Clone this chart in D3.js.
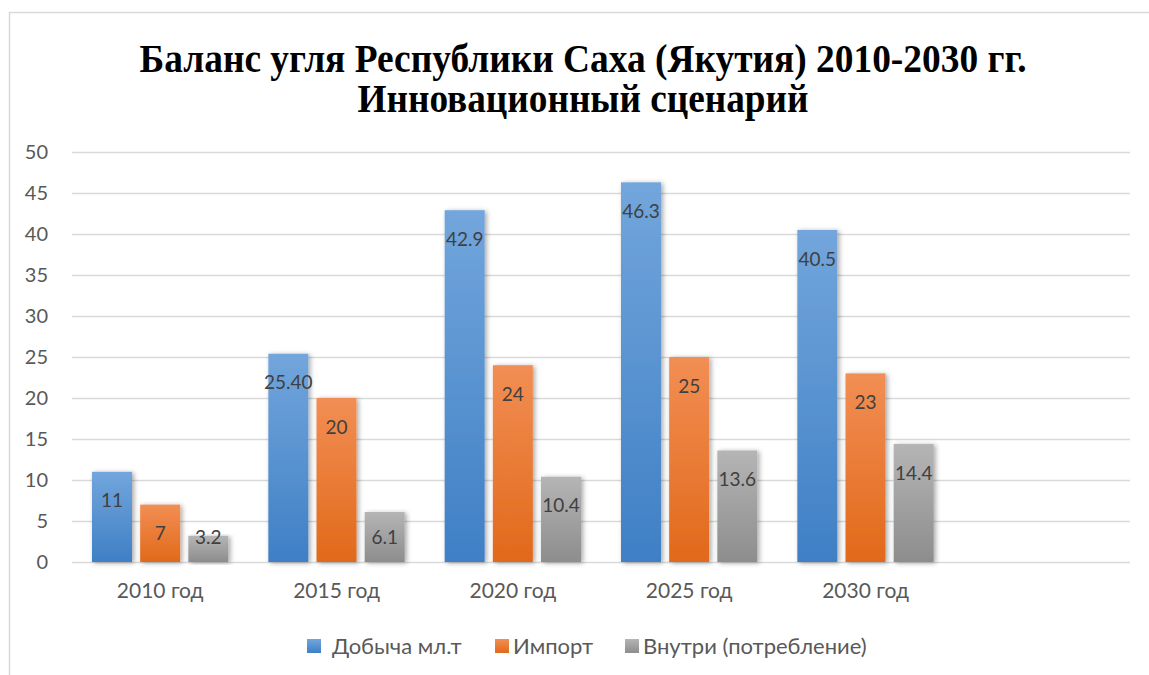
<!DOCTYPE html>
<html>
<head>
<meta charset="utf-8">
<script src="https://cdn.jsdelivr.net/npm/d3@7"></script>
<style>
  body { margin: 0; background: #fff; }
  svg text { font-family: Lato, "Open Sans", sans-serif; }
</style>
</head>
<body>
<svg id="chart"></svg>
<script>
// chart values
const categories = ["2010 год", "2015 год", "2020 год", "2025 год", "2030 год", ""];
const seriesNames = ["Добыча мл.т", "Импорт", "Внутри (потребление)"];
const dobycha = [11, 25.4, 42.9, 46.3, 40.5];
const importVals = [7, 20, 24, 25, 23];
const vnutri = [3.2, 6.1, 10.4, 13.6, 14.4];
const dobychaLabels = ["11", "25.40", "42.9", "46.3", "40.5"];
const importLabels = ["7", "20", "24", "25", "23"];
const vnutriLabels = ["3.2", "6.1", "10.4", "13.6", "14.4"];
const yTicks = [0, 5, 10, 15, 20, 25, 30, 35, 40, 45, 50];
const titleLines = ["Баланс угля Республики Саха (Якутия) 2010-2030 гг.", "Инновационный сценарий"];

const config = {
    width: 1149,
    height: 675,
    margin: { top: 152, right: 19, bottom: 113, left: 72 }
};

const svg = d3.select("#chart")
    .attr("width", config.width)
    .attr("height", config.height);

const innerW = config.width - config.margin.left - config.margin.right;
const innerH = config.height - config.margin.top - config.margin.bottom;

// frame of the chart object
svg.append("path")
    .attr("d", `M9.5,${config.height} V12.5 H${config.width}`)
    .attr("fill", "none")
    .attr("stroke", "#d9d9d9")
    .attr("stroke-width", 1.5);

// gradients and shadow
const defs = svg.append("defs");
const gradStops = [
    ["#72a6dc", "#3f7fc5"],
    ["#f28e54", "#e1691a"],
    ["#b5b5b5", "#8d8d8d"]
];
gradStops.forEach((s, i) => {
    const g = defs.append("linearGradient")
        .attr("id", "grad" + i)
        .attr("x1", 0).attr("y1", 0).attr("x2", 0).attr("y2", 1);
    g.append("stop").attr("offset", "0%").attr("stop-color", s[0]);
    g.append("stop").attr("offset", "100%").attr("stop-color", s[1]);
});
const shadow = defs.append("filter").attr("id", "shadow")
    .attr("x", "-20%").attr("y", "-5%").attr("width", "150%").attr("height", "115%");
shadow.append("feDropShadow")
    .attr("dx", 2).attr("dy", 1).attr("stdDeviation", 2.5)
    .attr("flood-color", "#000").attr("flood-opacity", 0.35);

// title
svg.selectAll(".title")
    .data(titleLines)
    .join("text")
    .attr("class", "title")
    .attr("x", 583)
    .attr("y", (d, i) => 72 + i * 40)
    .attr("text-anchor", "middle")
    .attr("textLength", (d, i) => i === 0 ? 887 : 451)
    .attr("lengthAdjust", "spacingAndGlyphs")
    .style("font-family", "'Liberation Serif', 'Times New Roman', serif")
    .style("font-weight", "bold")
    .style("font-size", "40px")
    .style("fill", "#000")
    .text(d => d);

const chart = svg.append("g")
    .attr("transform", `translate(${config.margin.left},${config.margin.top})`);

const xScale = d3.scaleBand()
    .domain(categories.map((d, i) => i))
    .range([0, innerW])
    .padding(0);

const xInner = d3.scaleBand()
    .domain([0, 1, 2])
    .range([20, xScale.bandwidth() - 20])
    .paddingInner(0.17);

const yScale = d3.scaleLinear()
    .domain([0, 50])
    .range([innerH, 0]);

// gridlines
chart.append("g")
    .selectAll("line")
    .data(yTicks)
    .join("line")
    .attr("x1", 0)
    .attr("x2", innerW)
    .attr("y1", d => Math.round(yScale(d)) + 0.5)
    .attr("y2", d => Math.round(yScale(d)) + 0.5)
    .attr("stroke", "#d9d9d9")
    .attr("stroke-width", 1.5);

// y axis labels
const yAxis = d3.axisLeft(yScale).tickValues(yTicks).tickSize(0).tickPadding(24);
chart.append("g")
    .attr("class", "y-axis")
    .call(yAxis)
    .call(g => g.select(".domain").remove())
    .call(g => g.selectAll("text")
        .style("font-family", "Lato, 'Open Sans', sans-serif")
        .style("font-size", "20px")
        .style("fill", "#595959"));

// x axis labels
const xAxis = d3.axisBottom(xScale).tickFormat(i => categories[i]).tickSize(0).tickPadding(21);
chart.append("g")
    .attr("class", "x-axis")
    .attr("transform", `translate(0,${innerH})`)
    .call(xAxis)
    .call(g => g.select(".domain").remove())
    .call(g => g.selectAll("text")
        .style("font-family", "Lato, 'Open Sans', sans-serif")
        .style("font-size", "21px")
        .style("fill", "#595959"));

// bars
const series = [dobycha, importVals, vnutri];
const seriesLabels = [dobychaLabels, importLabels, vnutriLabels];
const barData = [];
series.forEach((vals, s) => {
    vals.forEach((v, c) => {
        barData.push({ s: s, c: c, v: v, label: seriesLabels[s][c] });
    });
});

chart.append("g")
    .selectAll("rect")
    .data(barData)
    .join("rect")
    .attr("x", d => xScale(d.c) + xInner(d.s))
    .attr("y", d => yScale(d.v))
    .attr("width", xInner.bandwidth())
    .attr("height", d => innerH - yScale(d.v))
    .attr("fill", d => `url(#grad${d.s})`)
    .attr("filter", "url(#shadow)");

// data labels (inside end)
chart.append("g")
    .selectAll("text")
    .data(barData)
    .join("text")
    .attr("x", d => xScale(d.c) + xInner(d.s) + xInner.bandwidth() / 2)
    .attr("y", d => Math.min(yScale(d.v) + 29, innerH - 25))
    .attr("dy", "0.35em")
    .attr("text-anchor", "middle")
    .style("font-size", "19px")
    .style("fill", "#404040")
    .text(d => d.label);

// legend
const legendX = [307, 495, 625];
const legend = svg.append("g")
    .selectAll("g")
    .data(seriesNames)
    .join("g")
    .attr("transform", (d, i) => `translate(${legendX[i]},646)`);
legend.append("rect")
    .attr("x", 0).attr("y", -7)
    .attr("width", 14).attr("height", 14)
    .attr("fill", (d, i) => `url(#grad${i})`);
legend.append("text")
    .attr("x", (d, i) => i === 0 ? 25 : 18)
    .attr("y", 0)
    .attr("dy", "0.35em")
    .style("font-size", "22px")
    .style("fill", "#595959")
    .text(d => d);
</script>
</body>
</html>
